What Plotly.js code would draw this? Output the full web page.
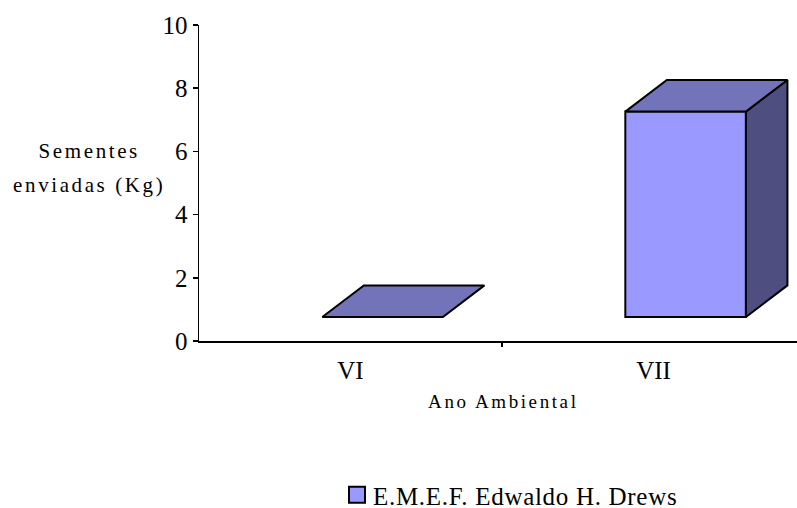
<!DOCTYPE html>
<html>
<head>
<meta charset="utf-8">
<script src="https://cdn.plot.ly/plotly-3.0.1.min.js"></script>
<style>
  html, body { margin: 0; padding: 0; background: #ffffff; }
  #chart { width: 797px; height: 508px; }
</style>
</head>
<body>
<div id="chart"></div>
<script>
// Seeds sent per environmental year (kg)
const categories = ['VI', 'VII'];
const seriesName = 'E.M.E.F. Edwaldo H. Drews';
const values = [0, 6.5];
const yTicks = [0, 2, 4, 6, 8, 10];

// 3D block styling (in axis units)
const floorLift = 0.76;   // floor of the perspective box above the axis line
const frontLeft = -0.093; // front face offset from the category centre
const frontWidth = 0.398;
const depthX = 0.137;     // oblique depth, horizontal
const depthY = 1.0;       // oblique depth, vertical
const colFront = '#9999FF';
const colTop = '#7373B9';
const colSide = '#4E4E80';
const edge = { color: '#000000', width: 2 };
const serif = 'Liberation Serif';

const xs = categories.map((c, i) => i);
const traces = [];

// front faces are a regular bar trace (also provides the legend swatch)
traces.push({
  type: 'bar',
  x: xs,
  y: values,
  base: floorLift,
  width: frontWidth,
  offset: frontLeft,
  name: seriesName,
  marker: { color: colFront, line: edge },
  hoverinfo: 'skip'
});

// top and side faces of every block, derived from the same values
values.forEach((v, i) => {
  const l = xs[i] + frontLeft;
  const r = l + frontWidth;
  const b = floorLift;
  const t = floorLift + v;
  if (v > 0) {
    traces.push({
      type: 'scatter', mode: 'lines', fill: 'toself', fillcolor: colSide,
      x: [r, r + depthX, r + depthX, r, r],
      y: [b, b + depthY, t + depthY, t, b],
      line: edge, showlegend: false, hoverinfo: 'skip'
    });
  }
  traces.push({
    type: 'scatter', mode: 'lines', fill: 'toself', fillcolor: colTop,
    x: [l, r, r + depthX, l + depthX, l],
    y: [t, t, t + depthY, t + depthY, t],
    line: edge, showlegend: false, hoverinfo: 'skip'
  });
});

// boundary tick marks between categories
traces.push({
  type: 'scatter', mode: 'markers', x: [], y: [], xaxis: 'x2', yaxis: 'y',
  showlegend: false, hoverinfo: 'skip'
});

const W = 797, H = 508;
const mL = 199, mR = 0, mT = 25, mB = 167;
const plotW = W - mL - mR;
const catPx = 303;
const xRange = [-0.5, -0.5 + plotW / catPx];
const plotH = H - mT - mB;
const py = (pix) => (H - mB - pix) / plotH;   // pixel row -> paper y
const px = (pix) => (pix - mL) / plotW;       // pixel col -> paper x

const layout = {
  width: W, height: H,
  margin: { l: mL, r: mR, t: mT, b: mB, pad: 0, autoexpand: false },
  paper_bgcolor: '#ffffff', plot_bgcolor: '#ffffff',
  font: { family: serif, color: '#000000', size: 24 },
  bargap: 0,
  xaxis: {
    range: xRange, showgrid: false, zeroline: false,
    showline: true, linecolor: '#000000', linewidth: 1.5,
    tickmode: 'array', tickvals: xs, ticktext: categories,
    ticks: '', ticklabelstandoff: 6,
    tickfont: { family: serif, size: 25, color: '#000000' },
    fixedrange: true
  },
  xaxis2: {
    overlaying: 'x', anchor: 'y', range: xRange,
    showgrid: false, zeroline: false, showline: false,
    tickmode: 'array', tickvals: xs.slice(0, -1).map(v => v + 0.5),
    ticks: 'outside', ticklen: 5, tickcolor: '#000000', tickwidth: 1.5,
    showticklabels: false, side: 'bottom', fixedrange: true
  },
  yaxis: {
    range: [0, 10], showgrid: false, zeroline: false,
    showline: true, linecolor: '#000000', linewidth: 1.5,
    tickmode: 'array', tickvals: yTicks,
    ticks: 'outside', ticklen: 5, tickcolor: '#000000', tickwidth: 1.5,
    tickfont: { family: serif, size: 25, color: '#000000' },
    fixedrange: true
  },
  showlegend: true,
  legend: {
    orientation: 'h', x: px(333), xanchor: 'left',
    y: py(495), yanchor: 'middle',
    font: { family: serif, size: 25, color: '#000000' },
    bgcolor: 'rgba(0,0,0,0)'
  },
  annotations: [
    { text: 'Sementes', xref: 'paper', yref: 'paper', x: px(89), y: py(151),
      xanchor: 'center', yanchor: 'middle', showarrow: false,
      font: { family: serif, size: 21, color: '#000000' } },
    { text: 'enviadas (Kg)', xref: 'paper', yref: 'paper', x: px(89), y: py(185),
      xanchor: 'center', yanchor: 'middle', showarrow: false,
      font: { family: serif, size: 21, color: '#000000' } },
    { text: 'Ano Ambiental', xref: 'paper', yref: 'paper', x: px(503), y: py(401),
      xanchor: 'center', yanchor: 'middle', showarrow: false,
      font: { family: serif, size: 19, color: '#000000' } }
  ]
};

Plotly.newPlot('chart', traces, layout, { displayModeBar: false, staticPlot: true })
  .then(() => {
    // wide letter spacing used by the axis captions
    document.querySelectorAll('.annotation-text').forEach(t => {
      t.style.letterSpacing = '2.6px';
    });
    // slightly loose legend label; let it run past the computed legend box
    document.querySelectorAll('.legendtext').forEach(t => {
      t.style.letterSpacing = '0.7px';
    });
    document.querySelectorAll('.legend .scrollbox').forEach(g => {
      g.removeAttribute('clip-path');
    });
    // larger square swatch, sitting close to the legend text
    document.querySelectorAll('.legendpoints path').forEach(p => {
      p.setAttribute('d', 'M12,8H-4V-8H12Z');
    });
  });
</script>
</body>
</html>
